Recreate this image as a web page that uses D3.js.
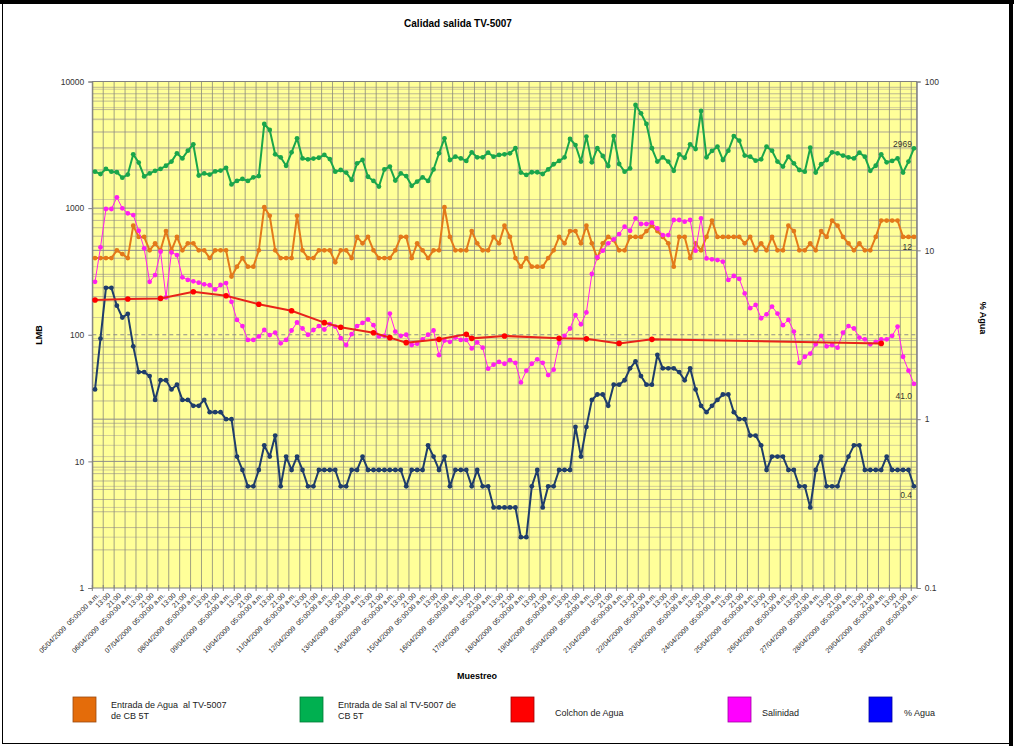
<!DOCTYPE html>
<html>
<head>
<meta charset="utf-8">
<script src="https://cdn.jsdelivr.net/npm/d3@7"></script>
<style>
  body { margin: 0; background: #fff; }
  svg { display: block; font-family: "Liberation Sans", Arial, sans-serif; }
</style>
</head>
<body>
<div id="chart"></div>
<script>
// Muestreo: cada 4 horas, del 05/04/2009 05:00 al 30/04/2009 05:00
const dias = ["05/04/2009","06/04/2009","07/04/2009","08/04/2009","09/04/2009","10/04/2009",
  "11/04/2009","12/04/2009","13/04/2009","14/04/2009","15/04/2009","16/04/2009","17/04/2009",
  "18/04/2009","19/04/2009","20/04/2009","21/04/2009","22/04/2009","23/04/2009","24/04/2009",
  "25/04/2009","26/04/2009","27/04/2009","28/04/2009","29/04/2009","30/04/2009"];
const horas = ["05:00","09:00","13:00","17:00","21:00","01:00"];

// Entrada de Agua al TV-5007 de CB 5T (eje derecho)
const aguaEntrada = [
  9,9,9,9,10,9.5,9,14,12,12,10,11,10,13,10,12,10,11,11,10,10,9,10,10,10,7,8,9,8,8,10,18,16,10,9,9,9,16,
  10,9,9,10,10,10,8.5,10,10,9,12,11,12,10,9,9,9,10,12,12,9,11,10,9,10,10,18,12,10,10,10,13,11,10,10,12,11,14,
  12,9,8,9,8,8,8,9,10,12,11,13,13,11,14,11,9,11,12,11.5,10,10,12,12,12,13,14,13,12,11,8,12,12,9,11,10,12,15,
  12,12,12,12,12,11,12,10,11,10,12,10,10,14,13,10,10,11,10,13,12,15,14,12,11,10,11,10,10,12,15,15,15,15,12,12,12];

// Entrada de Sal al TV-5007 de CB 5T (eje izquierdo)
const salEntrada = [
  1940,1860,2040,1940,1920,1740,1840,2660,2290,1780,1880,1970,2040,2160,2330,2710,2470,2840,3190,1810,1880,1840,1950,1980,2080,1540,1640,1700,1640,1750,1790,4620,4140,2660,2520,2160,2760,3560,
  2470,2430,2460,2500,2630,2440,1940,2000,1910,1670,2260,2400,1770,1640,1480,2020,2130,1650,1880,1790,1500,1620,1750,1640,2020,2710,3560,2400,2550,2470,2360,2760,2520,2520,2740,2550,2630,2660,
  2710,2970,1910,1830,1920,1920,1860,2020,2220,2360,2520,3520,3150,2330,3670,2300,2970,2580,2150,3710,2230,1940,2060,6520,5610,4620,2970,2330,2520,2330,1970,2660,2500,3190,2930,5850,2520,2830,
  3060,2400,2840,3710,3410,2600,2550,2370,2430,3060,2840,2330,2130,2550,2260,2000,1940,3000,1910,2220,2400,2760,2710,2600,2520,2470,2740,2550,1970,2160,2660,2300,2360,2470,1910,2330,2969];

// Salinidad (eje izquierdo)
const salinidad = [
  262,490,984,984,1217,996,910,882,663,481,262,296,453,197,447,426,284,271,264,258,250,246,228,247,256,182,131,117,91,91,97,109,99.5,104,85.5,91,108,125,
  112,100,109,117,110,121,116,94,83,101,117,124,132,119,97,98,147,106,98,100,83,85,92,100,108,69,90,88,95,91,91,78,87,79,54,58,61,59,
  63,60,42,52,59,64,60,48,53,86,98,112,143,121,150,302,409,461,527,567,624,714,663,830,749,749,768,692,613,613,806,806,782,806,461,830,401,394,
  389,378,271,291,276,212,162,172,135,145,167,147,119,131,106,60,67,71,84,98,81,83,79,104,117,112,95,92,84,88,92,92,98,116,67,52,41];

// % Agua (eje derecho)
const pctAgua = [
  1.5,3.0,6.0,6.0,4.7,4.0,4.2,2.7,1.9,1.9,1.8,1.3,1.7,1.7,1.5,1.6,1.3,1.3,1.2,1.2,1.3,1.1,1.1,1.1,1.0,1.0,0.6,0.5,0.4,0.4,0.5,0.7,0.6,0.8,0.4,0.6,0.5,0.6,
  0.5,0.4,0.4,0.5,0.5,0.5,0.5,0.4,0.4,0.5,0.5,0.6,0.5,0.5,0.5,0.5,0.5,0.5,0.5,0.4,0.5,0.5,0.5,0.7,0.6,0.5,0.6,0.4,0.5,0.5,0.5,0.4,0.5,0.4,0.4,0.3,0.3,0.3,
  0.3,0.3,0.2,0.2,0.4,0.5,0.3,0.4,0.4,0.5,0.5,0.5,0.9,0.6,0.9,1.3,1.4,1.4,1.2,1.6,1.6,1.7,2.0,2.2,1.8,1.6,1.6,2.4,2.0,2.0,2.0,1.9,1.7,2.0,1.5,1.2,1.1,1.2,
  1.3,1.4,1.4,1.1,1.0,1.0,0.8,0.8,0.7,0.5,0.6,0.6,0.6,0.5,0.5,0.4,0.4,0.3,0.5,0.6,0.4,0.4,0.4,0.5,0.6,0.7,0.7,0.5,0.5,0.5,0.5,0.6,0.5,0.5,0.5,0.5,0.4];

// Colchon de Agua (eje derecho), solo algunas muestras
const colchonFechas = ["05/04/2009 05:00","06/04/2009 05:00","07/04/2009 05:00","08/04/2009 05:00",
  "09/04/2009 05:00","10/04/2009 05:00","11/04/2009 05:00","12/04/2009 05:00","12/04/2009 17:00",
  "13/04/2009 17:00","14/04/2009 05:00","14/04/2009 17:00","15/04/2009 17:00","16/04/2009 13:00",
  "16/04/2009 17:00","17/04/2009 17:00","19/04/2009 09:00","20/04/2009 05:00","21/04/2009 05:00",
  "22/04/2009 05:00","29/04/2009 05:00"];
const colchonValores = [5.08,5.15,5.19,5.69,5.38,4.79,4.39,3.73,3.50,3.25,3.04,2.84,2.97,3.18,3.01,3.11,3.01,2.99,2.81,2.97,2.81];

const ticksIzq = [1, 10, 100, 1000, 10000];
const ticksDer = [0.1, 1, 10, 100];

// categorias (fecha hora)
const categorias = [];
dias.forEach((d, k) => {
  horas.forEach((h, j) => {
    if (k === dias.length - 1 && j > 0) return;
    const fecha = (h === "01:00") ? dias[k + 1] : d;
    categorias.push(fecha + " " + h);
  });
});

const W = 1014, H = 746;
const plot = { left: 92.3, right: 916.7, top: 81.5, bottom: 588 };

const svg = d3.select("#chart").append("svg")
  .attr("width", W).attr("height", H);

svg.append("rect").attr("width", W).attr("height", H).attr("fill", "#fff");

// marco
svg.append("rect")
  .attr("x", 2.5).attr("y", 2.5).attr("width", W - 6).attr("height", H - 5)
  .attr("fill", "none").attr("stroke", "#000").attr("stroke-width", 1);
svg.append("line").attr("x1", 0).attr("x2", W).attr("y1", 2).attr("y2", 2)
  .attr("stroke", "#000").attr("stroke-width", 4);
svg.append("line").attr("x1", W - 3).attr("x2", W - 3).attr("y1", 0).attr("y2", H)
  .attr("stroke", "#000").attr("stroke-width", 4);

// Scales
const x = d3.scalePoint().domain(categorias).range([plot.left, plot.right]).padding(0.5);
const step = x.step();
const yL = d3.scaleLog().domain([1, 10000]).range([plot.bottom, plot.top]);
const yR = d3.scaleLog().domain([0.1, 100]).range([plot.bottom, plot.top]);

// Plot area
svg.append("rect")
  .attr("x", plot.left).attr("y", plot.top)
  .attr("width", plot.right - plot.left).attr("height", plot.bottom - plot.top)
  .attr("fill", "#ffff99");

const grid = svg.append("g").attr("class", "grid");

// horizontal grid: minor of both axes
const minorL = [];
[1, 10, 100, 1000].forEach(b => { for (let m = 2; m <= 9; m++) minorL.push(b * m); });
grid.selectAll(".hl").data(minorL).join("line")
  .attr("x1", plot.left).attr("x2", plot.right)
  .attr("y1", d => yL(d)).attr("y2", d => yL(d))
  .attr("stroke", "#bdb98f").attr("stroke-width", 1);
const minorR = [];
[0.1, 1, 10].forEach(b => { for (let m = 2; m <= 9; m++) minorR.push(b * m); });
grid.selectAll(".hr").data(minorR).join("line")
  .attr("x1", plot.left).attr("x2", plot.right)
  .attr("y1", d => yR(d)).attr("y2", d => yR(d))
  .attr("stroke", "#d2ce98").attr("stroke-width", 1);
grid.selectAll(".hm").data(ticksIzq.slice(1, -1)).join("line")
  .attr("x1", plot.left).attr("x2", plot.right)
  .attr("y1", d => yL(d)).attr("y2", d => yL(d))
  .attr("stroke", "#8c8c8c").attr("stroke-width", 1)
  .attr("stroke-dasharray", d => d === 100 ? "4,3" : null);
grid.selectAll(".hmr").data(ticksDer.slice(1, -1)).join("line")
  .attr("x1", plot.left).attr("x2", plot.right)
  .attr("y1", d => yR(d)).attr("y2", d => yR(d))
  .attr("stroke", "#8c8c8c").attr("stroke-width", 1);

// vertical grid every 2 categories
const cortes = categorias.filter((c, i) => i % 2 === 0 && i > 0);
grid.selectAll(".v").data(cortes).join("line")
  .attr("x1", d => x(d) - step / 2).attr("x2", d => x(d) - step / 2)
  .attr("y1", plot.top).attr("y2", plot.bottom)
  .attr("stroke", "#8a8a7a").attr("stroke-width", 0.8);

// plot border
svg.append("rect")
  .attr("x", plot.left).attr("y", plot.top)
  .attr("width", plot.right - plot.left).attr("height", plot.bottom - plot.top)
  .attr("fill", "none").attr("stroke", "#808080").attr("stroke-width", 1);

// axes
const axisL = svg.append("g").attr("transform", `translate(${plot.left},0)`)
  .call(d3.axisLeft(yL).tickValues(ticksIzq).tickFormat(d3.format("d")).tickSize(4).tickPadding(4));
const axisR = svg.append("g").attr("transform", `translate(${plot.right},0)`)
  .call(d3.axisRight(yR).tickValues(ticksDer).tickFormat(d => d < 1 ? "0.1" : d3.format("d")(d)).tickSize(4).tickPadding(4));
[axisL, axisR].forEach(a => {
  a.select(".domain").attr("stroke", "#808080");
  a.selectAll(".tick line").attr("stroke", "#808080");
  a.selectAll(".tick text").attr("fill", "#333").style("font-size", "8.5px").style("font-family", "Liberation Sans, Arial, sans-serif");
});

// x ticks + labels
const etiquetas = categorias.filter((c, i) => i % 2 === 0);
svg.append("g").selectAll("line").data(etiquetas).join("line")
  .attr("x1", d => x(d) - step / 2).attr("x2", d => x(d) - step / 2)
  .attr("y1", plot.bottom - 3).attr("y2", plot.bottom + 3)
  .attr("stroke", "#808080");

function textoEtiqueta(c) {
  const [f, h] = c.split(" ");
  return h === "05:00" ? f + "  05:00:00 a.m." : h;
}
svg.append("g").selectAll("text").data(etiquetas).join("text")
  .attr("transform", d => `translate(${x(d) + 3},${plot.bottom + 6}) rotate(-45)`)
  .attr("text-anchor", "end")
  .attr("dy", "0.35em")
  .attr("fill", "#222")
  .style("font-size", "7px")
  .style("white-space", "pre")
  .text(textoEtiqueta);

// titles
svg.append("text").attr("x", 458).attr("y", 27).attr("text-anchor", "middle")
  .style("font-size", "10px").style("font-weight", "bold").text("Calidad salida TV-5007");
svg.append("text").attr("transform", "translate(42,335) rotate(-90)").attr("text-anchor", "middle")
  .style("font-size", "9px").style("font-weight", "bold").text("LMB");
svg.append("text").attr("transform", "translate(980,318) rotate(90)").attr("text-anchor", "middle")
  .style("font-size", "9px").style("font-weight", "bold").text("% Agua");
svg.append("text").attr("x", 477).attr("y", 679).attr("text-anchor", "middle")
  .style("font-size", "9px").style("font-weight", "bold").text("Muestreo");

// series
const series = [
  { nombre: "sal", datos: salEntrada, y: yL, color: "#1aa64b", ancho: 2, r: 2.4 },
  { nombre: "agua", datos: aguaEntrada, y: yR, color: "#e3791a", ancho: 2, r: 2.4 },
  { nombre: "salinidad", datos: salinidad, y: yL, color: "#ff1ff0", ancho: 1, r: 2.4 },
  { nombre: "pct", datos: pctAgua, y: yR, color: "#1f3d6b", ancho: 2, r: 2.4 }
];

const capa = svg.append("g");
series.forEach(s => {
  const pts = s.datos.map((v, i) => [x(categorias[i]), s.y(v)]);
  capa.append("path")
    .attr("d", d3.line()(pts))
    .attr("fill", "none").attr("stroke", s.color).attr("stroke-width", s.ancho)
    .attr("stroke-linejoin", "round");
  capa.append("g").selectAll("circle").data(pts).join("circle")
    .attr("cx", d => d[0]).attr("cy", d => d[1]).attr("r", s.r)
    .attr("fill", s.color);
});

// colchon de agua
const ptsC = colchonFechas.map((f, i) => [x(f), yR(colchonValores[i])]);
capa.append("path")
  .attr("d", d3.line()(ptsC))
  .attr("fill", "none").attr("stroke", "#e8231a").attr("stroke-width", 2);
capa.append("g").selectAll("circle").data(ptsC).join("circle")
  .attr("cx", d => d[0]).attr("cy", d => d[1]).attr("r", 2.8).attr("fill", "#f00");

// last-point data labels
const ultimo = categorias[categorias.length - 1];
const rotulos = [
  { t: "2969", y: yL(salEntrada[salEntrada.length - 1]) - 1 },
  { t: "12", y: yR(aguaEntrada[aguaEntrada.length - 1]) + 13 },
  { t: "41.0", y: yL(salinidad[salinidad.length - 1]) + 15 },
  { t: "0.4", y: yR(pctAgua[pctAgua.length - 1]) + 12 }
];
svg.append("g").selectAll("text").data(rotulos).join("text")
  .attr("x", x(ultimo) - 2).attr("y", d => d.y)
  .attr("text-anchor", "end").attr("fill", "#333")
  .style("font-size", "8.5px").text(d => d.t);

// legend
const leyenda = [
  { color: "#e46c0a", borde: "#9a4a10", x: 73, tx: 38, lineas: ["Entrada de Agua  al TV-5007", "de CB 5T"] },
  { color: "#00b050", borde: "#007a36", x: 300, tx: 38, lineas: ["Entrada de Sal al TV-5007 de", "CB 5T"] },
  { color: "#ff0000", borde: "#a00000", x: 511, tx: 44, lineas: ["Colchon de Agua"] },
  { color: "#ff00ff", borde: "#a000a0", x: 728, tx: 34, lineas: ["Salinidad"] },
  { color: "#0000ff", borde: "#0000a0", x: 869, tx: 35, lineas: ["% Agua"] }
];
const lg = svg.append("g").selectAll("g").data(leyenda).join("g")
  .attr("transform", d => `translate(${d.x},697)`);
lg.append("rect").attr("width", 23).attr("height", 25)
  .attr("fill", d => d.color).attr("stroke", d => d.borde).attr("stroke-width", 0.8);
lg.append("text")
  .attr("x", d => d.tx)
  .attr("y", d => d.lineas.length > 1 ? 11 : 19)
  .style("font-size", "9px").attr("fill", "#222")
  .style("white-space", "pre")
  .selectAll("tspan").data(d => d.lineas).join("tspan")
  .attr("x", function () { return d3.select(this.parentNode).attr("x"); })
  .attr("dy", (d, i) => i === 0 ? 0 : 10.5)
  .text(d => d);
</script>
</body>
</html>
